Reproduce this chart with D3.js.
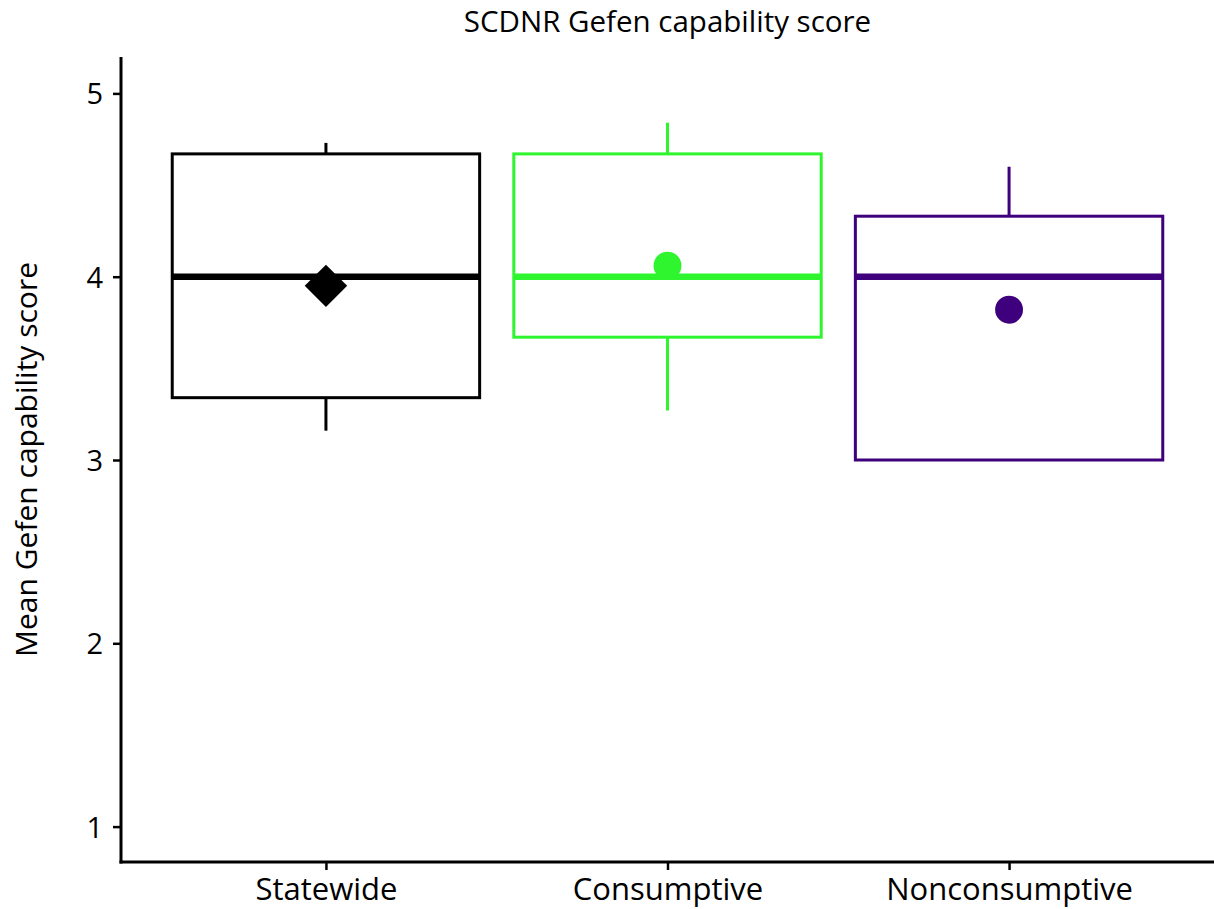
<!DOCTYPE html>
<html>
<head>
<meta charset="utf-8">
<script src="https://cdn.jsdelivr.net/npm/d3@7"></script>
<style>
  html, body { margin: 0; padding: 0; background: #ffffff; }
  svg { display: block; }
  text { font-family: "Open Sans", "Noto Sans", sans-serif; fill: #000; }
</style>
</head>
<body>
<svg id="chart" width="1214" height="909"></svg>
<script>
// Box-plot summaries of the capability score for each group
const groups     = ["Statewide", "Consumptive", "Nonconsumptive"];
const whiskerLow = [3.16, 3.27, 3.00];
const q1         = [3.34, 3.67, 3.00];
const median     = [4.00, 4.00, 4.00];
const q3         = [4.67, 4.67, 4.33];
const whiskerHigh= [4.73, 4.84, 4.60];
const means      = [3.95, 4.06, 3.82];
const colors     = ["#000000", "#2ff52f", "#3f007d"];
const meanShapes = ["diamond", "circle", "circle"];
const yTicks     = [1, 2, 3, 4, 5];

const rows = groups.map((g, i) => ({
  group: g, lo: whiskerLow[i], q1: q1[i], med: median[i], q3: q3[i],
  hi: whiskerHigh[i], mean: means[i], color: colors[i], shape: meanShapes[i]
}));

const svg = d3.select("#chart");
const panel = { left: 121, right: 1214, top: 57, bottom: 862 };

const x = d3.scalePoint().domain(groups).range([panel.left, panel.right]).padding(0.6);
const y = d3.scaleLinear().domain([4 - (862 - 276.7) / 183.3, 4 + (276.7 - 57) / 183.3])
  .range([panel.bottom, panel.top]);
const boxW = x.step() * 0.9;

// Axes
const yAxis = svg.append("g").attr("transform", `translate(${panel.left},0)`)
  .call(d3.axisLeft(y).tickValues(yTicks).tickFormat(d3.format("d")).tickSize(8).tickSizeOuter(0));
const xAxis = svg.append("g").attr("transform", `translate(0,${panel.bottom})`)
  .call(d3.axisBottom(x).tickSize(8).tickSizeOuter(0));
[yAxis, xAxis].forEach(a => {
  a.select(".domain").attr("stroke", "#000").attr("stroke-width", 3);
  a.selectAll(".tick line").attr("stroke", "#000").attr("stroke-width", 2.5);
  a.selectAll(".tick text").attr("font-family", "'Open Sans', sans-serif").attr("fill", "#000");
});
yAxis.selectAll(".tick text").attr("font-size", 29).attr("dx", "-7").attr("dy", "0.36em");
xAxis.selectAll(".tick text").attr("font-size", 31).attr("dy", "27");
yAxis.select(".domain").attr("d", `M0,${panel.bottom + 1.5}V${panel.top}`);
xAxis.select(".domain").attr("d", `M${panel.left - 1.5},0H${panel.right}`);

// Boxes
const g = svg.append("g");
const box = g.selectAll("g.box").data(rows).join("g").attr("class", "box");

box.filter(d => d.hi > d.q3).append("line")
  .attr("x1", d => x(d.group)).attr("x2", d => x(d.group))
  .attr("y1", d => y(d.q3)).attr("y2", d => y(d.hi))
  .attr("stroke", d => d.color).attr("stroke-width", 3);
box.filter(d => d.lo < d.q1).append("line")
  .attr("x1", d => x(d.group)).attr("x2", d => x(d.group))
  .attr("y1", d => y(d.q1)).attr("y2", d => y(d.lo))
  .attr("stroke", d => d.color).attr("stroke-width", 3);

box.append("rect")
  .attr("x", d => x(d.group) - boxW / 2).attr("width", boxW)
  .attr("y", d => y(d.q3)).attr("height", d => y(d.q1) - y(d.q3))
  .attr("fill", "none").attr("stroke", d => d.color).attr("stroke-width", 3);

box.append("line")
  .attr("x1", d => x(d.group) - boxW / 2).attr("x2", d => x(d.group) + boxW / 2)
  .attr("y1", d => y(d.med)).attr("y2", d => y(d.med))
  .attr("stroke", d => d.color).attr("stroke-width", 6.5);

// Group means
box.append("path")
  .attr("transform", d => `translate(${x(d.group)},${y(d.mean)})`)
  .attr("d", d => d.shape === "diamond"
    ? d3.symbol(d3.symbolDiamond2, 1150)()
    : d3.symbol(d3.symbolCircle, 610)())
  .attr("fill", d => d.color);

// Titles
svg.append("text").attr("x", (panel.left + panel.right) / 2).attr("y", 32)
  .attr("text-anchor", "middle").attr("font-size", 29.5).text("SCDNR Gefen capability score");
svg.append("text")
  .attr("transform", `translate(37,${(panel.top + panel.bottom) / 2}) rotate(-90)`)
  .attr("text-anchor", "middle").attr("font-size", 30).text("Mean Gefen capability score");
</script>
</body>
</html>
